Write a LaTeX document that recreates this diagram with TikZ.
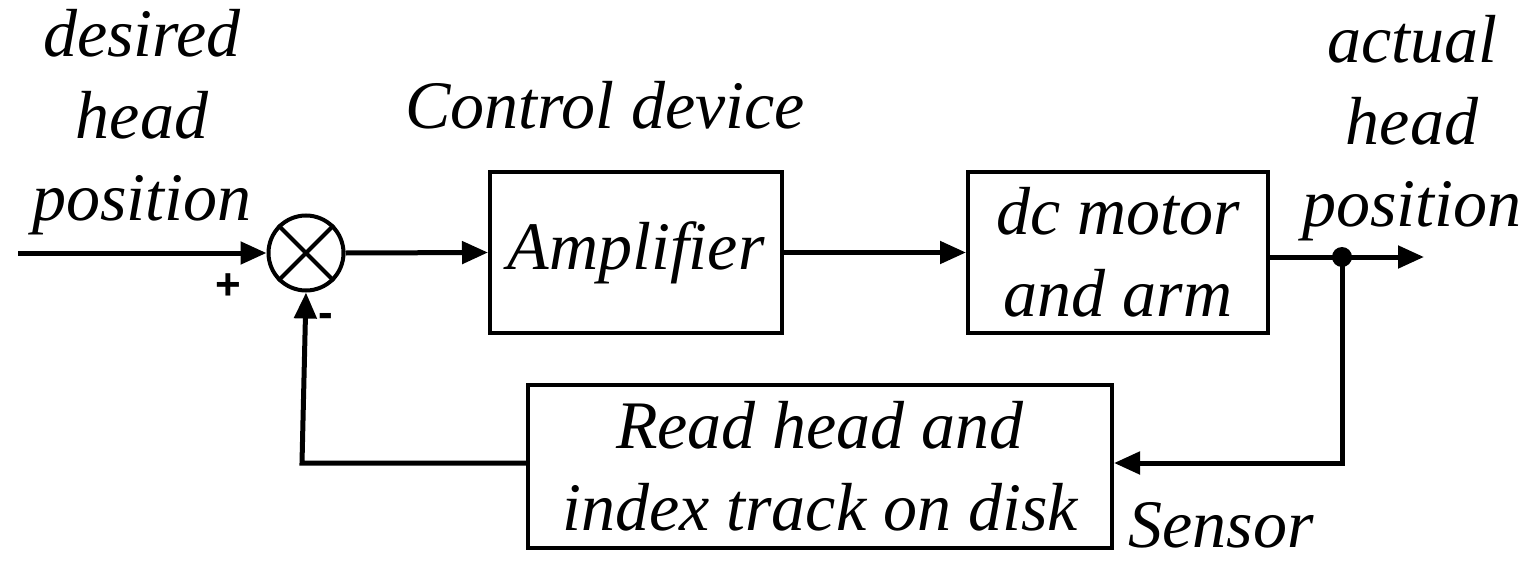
\documentclass[tikz,border=0pt]{standalone}
\usepackage{fontspec}
\setmainfont{Liberation Serif}
\setsansfont{Liberation Sans}
\usetikzlibrary{arrows.meta}
\begin{document}
\begin{tikzpicture}[x=0.5pt,y=-0.5pt,
  lbl/.style={font=\fontsize{34}{41}\selectfont\itshape, inner sep=0pt, align=center},
  blk/.style={draw, line width=2pt, minimum width=#1, inner sep=0pt, align=center, font=\fontsize{34}{41}\selectfont\itshape},
  wire/.style={line width=2.5pt},
  arr/.style={wire, -{Triangle[length=13pt,width=11pt]}},
  sgn/.style={font=\fontsize{22}{22}\selectfont\sffamily\bfseries, inner sep=0pt}]
\useasboundingbox (0,0) rectangle (1532,562);
% blocks
\node[blk=146pt, minimum height=80.5pt] (amp) at (636,252.5) {Amplifier};
\node[blk=150pt, minimum height=80.5pt] (motor) at (1118,252.5) {dc motor\\and arm};
\node[blk=292pt, minimum height=81.5pt] (sensor) at (820,466.5) {Read head and\\index track on disk};
% summing junction
\node[draw, circle, line width=2pt, minimum size=37.5pt, inner sep=0pt] (sum) at (306,253) {};
\draw[line width=2pt] (sum.north west) -- (sum.south east) (sum.north east) -- (sum.south west);
% coordinates
\coordinate (in) at (18,253);
\coordinate (out) at (1424,257);
\coordinate (tap) at (1342,257);
\coordinate (c1) at (1342,463);
\coordinate (c2) at (302,463);
% connectors
\draw[arr] (in) -- (sum.west);
\draw[arr] (sum.east) -- (amp.west);
\draw[arr] (amp.east) -- (motor.west |- amp.east);
\draw[arr] (motor.east |- tap) -- (out);
\fill (tap) circle (5pt);
\draw[arr] (tap) -- (c1) -- (sensor.east |- c1);
\draw[arr] (sensor.west |- c2) -- (c2) -- (sum.south);
% labels
\node[lbl] (desired) at (142,122) {desired\\head\\position};
\node[lbl] (actual) at (1412,128) {actual\\head\\position};
\node[lbl, anchor=base] (ctrl) at (605,128) {Control device};
\node[lbl, anchor=base west] (sens) at (1128,547) {Sensor};
\node[sgn] (plus) at (228,287) {+};
\node[sgn] (minus) at (326,320) {-};
\end{tikzpicture}
\end{document}
